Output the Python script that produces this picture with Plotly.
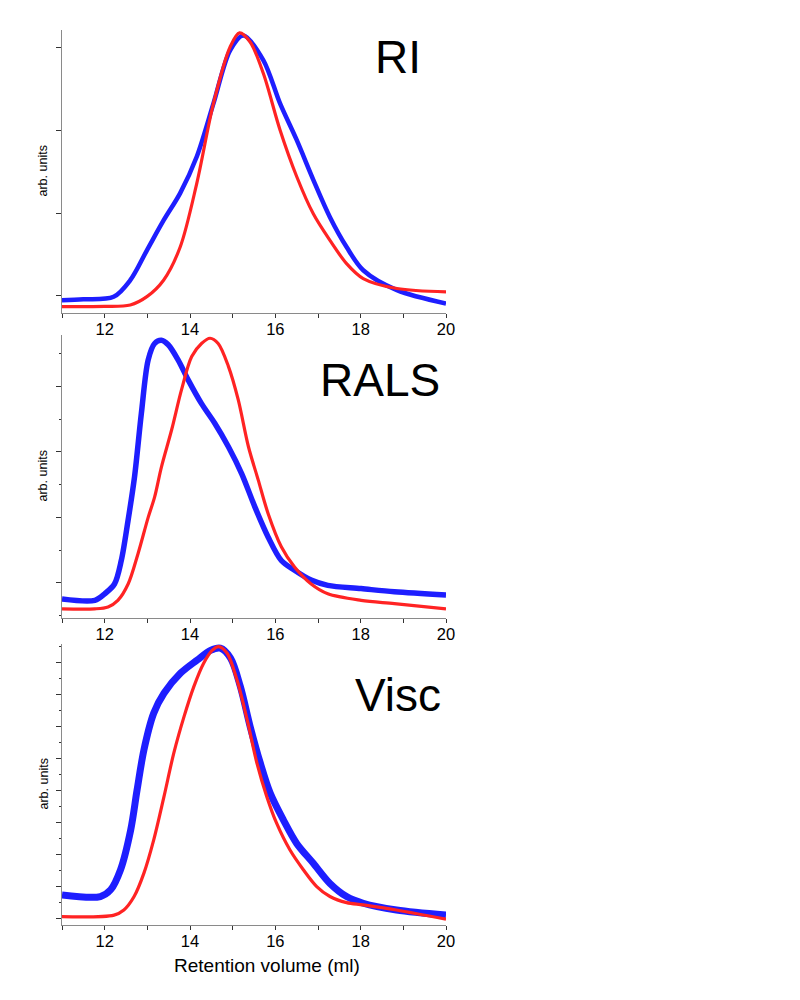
import plotly.graph_objects as go

# ---------------- data (arb. units) ----------------
ri_blue_x = [11.0, 11.5, 12.21, 12.6, 12.99, 13.38, 13.77, 14.16, 14.55, 14.94, 15.25, 15.72, 16.11, 16.5, 16.89, 17.28, 17.67, 18.06, 18.85, 20.0]
ri_blue_y = [-0.05, -0.04, -0.01, 0.19, 0.55, 0.91, 1.24, 1.68, 2.32, 2.96, 3.14, 2.84, 2.32, 1.88, 1.40, 0.95, 0.59, 0.31, 0.07, -0.09]
ri_red_x = [11.0, 12.0, 12.6, 12.99, 13.38, 13.77, 14.16, 14.55, 14.94, 15.16, 15.41, 15.72, 16.11, 16.5, 16.89, 17.28, 17.67, 18.06, 18.85, 20.0]
ri_red_y = [-0.128, -0.125, -0.108, -0.008, 0.19, 0.59, 1.36, 2.32, 3.0, 3.17, 3.06, 2.68, 2.0, 1.44, 0.99, 0.67, 0.39, 0.21, 0.09, 0.05]

rals_blue_x = [11.0, 11.77, 12.0, 12.23, 12.39, 12.55, 12.7, 12.86, 13.02, 13.17, 13.33, 13.49, 13.72, 13.96, 14.27, 14.58, 14.9, 15.21, 15.52, 15.83, 16.14, 16.45, 16.84, 17.23, 18.01, 18.79, 20.0]
rals_blue_y = [-0.25, -0.27, -0.17, -0.02, 0.34, 0.96, 1.62, 2.59, 3.41, 3.66, 3.71, 3.64, 3.41, 3.10, 2.74, 2.44, 2.08, 1.67, 1.16, 0.70, 0.34, 0.19, 0.04, -0.04, -0.09, -0.14, -0.19]
rals_red_x = [11.0, 11.77, 12.08, 12.31, 12.55, 12.78, 13.02, 13.17, 13.33, 13.57, 13.8, 14.04, 14.27, 14.47, 14.66, 14.9, 15.13, 15.37, 15.6, 15.83, 16.14, 16.45, 16.84, 17.23, 18.01, 18.79, 20.0]
rals_red_y = [-0.40, -0.40, -0.37, -0.27, -0.02, 0.44, 1.0, 1.31, 1.77, 2.34, 2.95, 3.46, 3.66, 3.74, 3.66, 3.31, 2.80, 2.08, 1.57, 1.06, 0.55, 0.24, -0.02, -0.17, -0.27, -0.32, -0.40]

visc_blue_x = [11.0, 11.9, 12.14, 12.37, 12.61, 12.76, 12.92, 13.15, 13.39, 13.78, 14.17, 14.48, 14.71, 14.95, 15.18, 15.41, 15.65, 15.88, 16.19, 16.5, 16.89, 17.28, 17.67, 18.06, 18.84, 20.0]
visc_blue_y = [0.74, 0.69, 0.90, 1.52, 2.77, 4.02, 5.27, 6.42, 7.04, 7.67, 8.08, 8.38, 8.45, 8.14, 7.25, 6.0, 4.85, 3.92, 3.08, 2.35, 1.73, 1.10, 0.69, 0.48, 0.27, 0.11]
visc_red_x = [11.0, 12.22, 12.45, 12.69, 12.92, 13.15, 13.39, 13.62, 13.86, 14.09, 14.32, 14.52, 14.67, 14.87, 15.1, 15.34, 15.57, 15.8, 16.03, 16.34, 16.66, 16.97, 17.28, 17.67, 18.06, 18.84, 20.0]
visc_red_y = [0.06, 0.11, 0.27, 0.69, 1.42, 2.46, 3.81, 5.17, 6.31, 7.25, 7.98, 8.38, 8.50, 8.29, 7.46, 6.21, 4.85, 3.81, 2.98, 2.15, 1.52, 1.0, 0.69, 0.50, 0.43, 0.27, -0.02]

panel_labels = ["RI", "RALS", "Visc"]
x_ticks = [12, 14, 16, 18, 20]
x_title = "Retention volume (ml)"
y_title = "arb. units"

BLUE = "rgb(30,30,255)"
RED = "rgb(255,35,35)"
AXC = "#8a8a8a"
TKC = "#333333"
FONT = "Liberation Sans, Arial, sans-serif"

OFF = 8  # page body margin offset of the rendered figure
W, H = 800, 1000

def px(x):
    return (x - OFF) / W

def py(y):
    return 1 - (y - OFF) / H

fig = go.Figure()

panels = [
    (ri_blue_x, ri_blue_y, ri_red_x, ri_red_y, 4.5, [-0.205, 3.205], None),
    (rals_blue_x, rals_blue_y, rals_red_x, rals_red_y, 5.5, [-0.54, 3.79], 0.5),
    (visc_blue_x, visc_blue_y, visc_red_x, visc_red_y, 7, [-0.2, 8.58], 0.5),
]
panel_pix = [(30, 313), (335, 618), (644, 925)]   # top, bottom in page pixels
label_pos = [(398, 57), (380, 380), (398, 695)]

for i, (bx, by, rx, ry, bw, yr, minor) in enumerate(panels):
    n = "" if i == 0 else str(i + 1)
    top, bot = panel_pix[i]
    ydom = [py(bot), py(top)]
    fig.add_trace(go.Scatter(x=bx, y=by, mode="lines", line=dict(color=BLUE, width=bw, shape="spline", smoothing=0.9),
                             xaxis="x" + n, yaxis="y" + n, showlegend=False))
    fig.add_trace(go.Scatter(x=rx, y=ry, mode="lines", line=dict(color=RED, width=3.2, shape="spline", smoothing=0.9),
                             xaxis="x" + n, yaxis="y" + n, showlegend=False))
    xa = dict(domain=[px(62), px(446)], range=[11, 20], anchor="y" + n, automargin=False,
              tickmode="array", tickvals=x_ticks, ticks="outside", ticklen=4, tickcolor=TKC,
              ticklabelstandoff=-3,
              showline=True, linecolor=AXC, linewidth=1, showgrid=False, zeroline=False,
              tickfont=dict(family=FONT, size=16.5, color="black"),
              minor=dict(dtick=1, tick0=11, ticks="outside", ticklen=4, tickcolor=TKC, showgrid=False))
    ya = dict(domain=ydom, range=yr, anchor="x" + n, dtick=1, tick0=0, automargin=False,
              ticks="outside", ticklen=5, tickcolor=TKC, showticklabels=False,
              showline=True, linecolor=AXC, linewidth=1, showgrid=False, zeroline=False)
    if minor:
        ya["minor"] = dict(dtick=minor, tick0=0, ticks="outside", ticklen=2.5, tickcolor=TKC, showgrid=False)
    fig.update_layout(**{"xaxis" + n: xa, "yaxis" + n: ya})
    lx, ly = label_pos[i]
    fig.add_annotation(x=px(lx), y=py(ly), xref="paper", yref="paper", text=panel_labels[i],
                       showarrow=False, font=dict(family=FONT, size=46, color="black"),
                       xanchor="center", yanchor="middle")
    fig.add_annotation(x=px(43), y=(ydom[0] + ydom[1]) / 2, xref="paper", yref="paper", text=y_title,
                       textangle=-90, showarrow=False, font=dict(family=FONT, size=12.5, color="black"),
                       xanchor="center", yanchor="middle")

fig.add_annotation(x=px(267), y=py(965), xref="paper", yref="paper", text=x_title,
                   showarrow=False, font=dict(family=FONT, size=19, color="black"),
                   xanchor="center", yanchor="middle")

fig.update_layout(width=W, height=H, margin=dict(l=0, r=0, t=0, b=0, autoexpand=False),
                  paper_bgcolor="white", plot_bgcolor="white")

fig.write_html("out.html")
